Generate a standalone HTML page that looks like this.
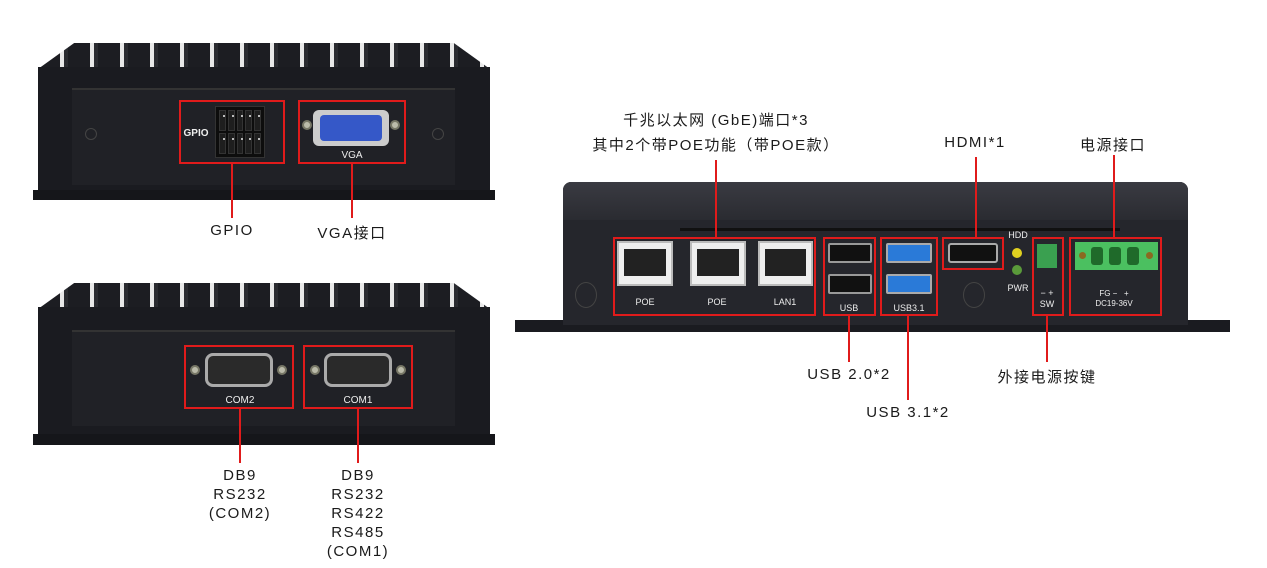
<!DOCTYPE html>
<html><head><meta charset="utf-8"><style>
*{margin:0;padding:0;box-sizing:border-box}
body{width:1267px;height:568px;background:#fff;position:relative;overflow:hidden;font-family:"Liberation Sans","Noto Sans CJK SC",sans-serif}
.a{position:absolute}
.fins{background:repeating-linear-gradient(90deg,#1c1d22 0 22px,#e8e8e8 22px 26px,#2a2b30 26px 30px);}
.body{background:#1a1b20}
.panel{background:#202126;border-top:2px solid #333}
.rb{position:absolute;border:2px solid #e01b1b}
.rl{position:absolute;background:#e01b1b;width:2px}
.lbl{position:absolute;color:#1a1a1a;font-size:15px;letter-spacing:1.5px;text-align:center;white-space:nowrap;transform:translateX(-50%)}
.wt{position:absolute;color:#eee;font-size:9px;text-align:center;white-space:nowrap;transform:translateX(-50%)}
.rj{position:absolute;background:#eee;border:2px solid #bbb}
.rj::after{content:"";position:absolute;left:5px;right:5px;top:6px;bottom:8px;background:#222}
.usb{position:absolute;background:#111;border:2px solid #999;border-radius:2px}
.usb3{position:absolute;background:#2a7ad8;border:2px solid #aaa;border-radius:2px}
.db9{position:absolute;background:#2a2a2a;border:3px solid #aaa;border-radius:8px}
.screw{position:absolute;width:10px;height:10px;border-radius:50%;background:#bba;border:2px solid #776}
.gp{position:absolute;left:215px;top:106px;width:50px;height:52px;background:#0d0d0d;border:1px solid #333;display:grid;grid-template-columns:repeat(5,1fr);gap:2px;padding:3px}
.gp i{background:#1e1e1e;border:1px solid #333;position:relative}
.gp i::after{content:"";position:absolute;left:3px;top:4px;width:2px;height:2px;background:#bbb}
</style></head><body>

<!-- top-left device -->
<div class="a fins" style="left:38px;top:43px;width:452px;height:26px;clip-path:polygon(8% 0,92% 0,100% 100%,0 100%)"></div>
<div class="a body" style="left:38px;top:67px;width:452px;height:125px"></div>
<div class="a panel" style="left:72px;top:88px;width:383px;height:97px"></div>
<div class="a" style="left:33px;top:190px;width:462px;height:10px;background:#15161a"></div>
<div class="a" style="left:85px;top:128px;width:12px;height:12px;border-radius:50%;border:1px solid #444"></div>
<div class="a" style="left:432px;top:128px;width:12px;height:12px;border-radius:50%;border:1px solid #444"></div>
<div class="wt" style="left:196px;top:128px;font-size:10px;font-weight:bold">GPIO</div>
<div class="gp"><i></i><i></i><i></i><i></i><i></i><i></i><i></i><i></i><i></i><i></i></div>
<div class="screw" style="left:302px;top:120px"></div><div class="screw" style="left:390px;top:120px"></div>
<div class="a" style="left:313px;top:110px;width:76px;height:36px;background:#ccc;border-radius:6px"></div>
<div class="a" style="left:320px;top:115px;width:62px;height:26px;background:#3558c8;border-radius:4px"></div>
<div class="wt" style="left:352px;top:150px;font-size:10px">VGA</div>
<div class="rb" style="left:179px;top:100px;width:106px;height:64px"></div>
<div class="rb" style="left:298px;top:100px;width:108px;height:64px"></div>
<div class="rl" style="left:231px;top:164px;height:54px"></div>
<div class="rl" style="left:351px;top:164px;height:54px"></div>
<div class="lbl" style="left:232px;top:222px">GPIO</div>
<div class="lbl" style="left:352px;top:222px">VGA接口</div>

<!-- bottom-left device -->
<div class="a fins" style="left:38px;top:283px;width:452px;height:26px;clip-path:polygon(8% 0,92% 0,100% 100%,0 100%)"></div>
<div class="a body" style="left:38px;top:307px;width:452px;height:128px"></div>
<div class="a panel" style="left:72px;top:330px;width:383px;height:96px"></div>
<div class="a" style="left:33px;top:434px;width:462px;height:11px;background:#15161a"></div>
<div class="screw" style="left:190px;top:365px"></div><div class="screw" style="left:277px;top:365px"></div>
<div class="db9" style="left:205px;top:353px;width:68px;height:34px"></div>
<div class="wt" style="left:240px;top:395px;font-size:10px">COM2</div>
<div class="screw" style="left:310px;top:365px"></div><div class="screw" style="left:396px;top:365px"></div>
<div class="db9" style="left:324px;top:353px;width:68px;height:34px"></div>
<div class="wt" style="left:358px;top:395px;font-size:10px">COM1</div>
<div class="rb" style="left:184px;top:345px;width:110px;height:64px"></div>
<div class="rb" style="left:303px;top:345px;width:110px;height:64px"></div>
<div class="rl" style="left:239px;top:409px;height:54px"></div>
<div class="rl" style="left:357px;top:409px;height:54px"></div>
<div class="lbl" style="left:240px;top:466px;line-height:19px">DB9<br>RS232<br>(COM2)</div>
<div class="lbl" style="left:358px;top:466px;line-height:19px">DB9<br>RS232<br>RS422<br>RS485<br>(COM1)</div>

<!-- right device -->
<div class="a" style="left:515px;top:320px;width:715px;height:12px;background:#1a1b20"></div>
<div class="a" style="left:563px;top:182px;width:625px;height:143px;background:#25262c;border-radius:8px 8px 0 0"></div>
<div class="a" style="left:563px;top:182px;width:625px;height:38px;background:linear-gradient(#3a3b42,#2a2b31);border-radius:8px 8px 0 0"></div>
<div class="a" style="left:680px;top:228px;width:440px;height:3px;background:#111"></div>
<div class="a" style="left:575px;top:282px;width:22px;height:26px;border-radius:50%;border:1px solid #444"></div>
<div class="a" style="left:963px;top:282px;width:22px;height:26px;border-radius:50%;border:1px solid #444"></div>
<div class="rj" style="left:617px;top:241px;width:56px;height:45px"></div>
<div class="rj" style="left:690px;top:241px;width:56px;height:45px"></div>
<div class="rj" style="left:758px;top:241px;width:55px;height:45px"></div>
<div class="wt" style="left:645px;top:297px">POE</div>
<div class="wt" style="left:717px;top:297px">POE</div>
<div class="wt" style="left:785px;top:297px">LAN1</div>
<div class="usb" style="left:828px;top:243px;width:44px;height:20px"></div>
<div class="usb" style="left:828px;top:274px;width:44px;height:20px"></div>
<div class="wt" style="left:849px;top:303px">USB</div>
<div class="usb3" style="left:886px;top:243px;width:46px;height:20px"></div>
<div class="usb3" style="left:886px;top:274px;width:46px;height:20px"></div>
<div class="wt" style="left:909px;top:303px">USB3.1</div>
<div class="a" style="left:948px;top:243px;width:50px;height:20px;background:#111;border:2px solid #aaa;border-radius:3px"></div>
<div class="wt" style="left:1018px;top:230px">HDD</div>
<div class="a" style="left:1012px;top:248px;width:10px;height:10px;border-radius:50%;background:#e0d020"></div>
<div class="a" style="left:1012px;top:265px;width:10px;height:10px;border-radius:50%;background:#5a9a3a"></div>
<div class="wt" style="left:1018px;top:283px">PWR</div>
<div class="a" style="left:1037px;top:244px;width:20px;height:24px;background:#3aa050"></div>
<div class="wt" style="left:1047px;top:288px;line-height:11px">− +<br>SW</div>
<div class="a" style="left:1075px;top:242px;width:83px;height:28px;background:#4bc060"></div>
<div class="a" style="left:1091px;top:247px;width:12px;height:18px;background:#1f6a2a;border-radius:3px"></div>
<div class="a" style="left:1109px;top:247px;width:12px;height:18px;background:#1f6a2a;border-radius:3px"></div>
<div class="a" style="left:1127px;top:247px;width:12px;height:18px;background:#1f6a2a;border-radius:3px"></div>
<div class="a" style="left:1079px;top:252px;width:7px;height:7px;border-radius:50%;background:#8a6a20"></div>
<div class="a" style="left:1146px;top:252px;width:7px;height:7px;border-radius:50%;background:#8a6a20"></div>
<div class="wt" style="left:1114px;top:289px;line-height:10px;font-size:8px">FG −&nbsp;&nbsp; +<br>DC19-36V</div>
<div class="rb" style="left:613px;top:237px;width:203px;height:79px"></div>
<div class="rb" style="left:823px;top:237px;width:53px;height:79px"></div>
<div class="rb" style="left:880px;top:237px;width:58px;height:79px"></div>
<div class="rb" style="left:942px;top:237px;width:62px;height:33px"></div>
<div class="rb" style="left:1032px;top:237px;width:32px;height:79px"></div>
<div class="rb" style="left:1069px;top:237px;width:93px;height:79px"></div>
<div class="rl" style="left:715px;top:160px;height:77px"></div>
<div class="rl" style="left:975px;top:157px;height:80px"></div>
<div class="rl" style="left:1113px;top:155px;height:82px"></div>
<div class="rl" style="left:848px;top:316px;height:46px"></div>
<div class="rl" style="left:907px;top:316px;height:84px"></div>
<div class="rl" style="left:1046px;top:316px;height:46px"></div>
<div class="lbl" style="left:716px;top:109px">千兆以太网 (GbE)端口*3</div>
<div class="lbl" style="left:716px;top:134px">其中2个带POE功能（带POE款）</div>
<div class="lbl" style="left:975px;top:134px">HDMI*1</div>
<div class="lbl" style="left:1113px;top:134px">电源接口</div>
<div class="lbl" style="left:849px;top:366px">USB 2.0*2</div>
<div class="lbl" style="left:908px;top:404px">USB 3.1*2</div>
<div class="lbl" style="left:1047px;top:366px">外接电源按键</div>
</body></html>
